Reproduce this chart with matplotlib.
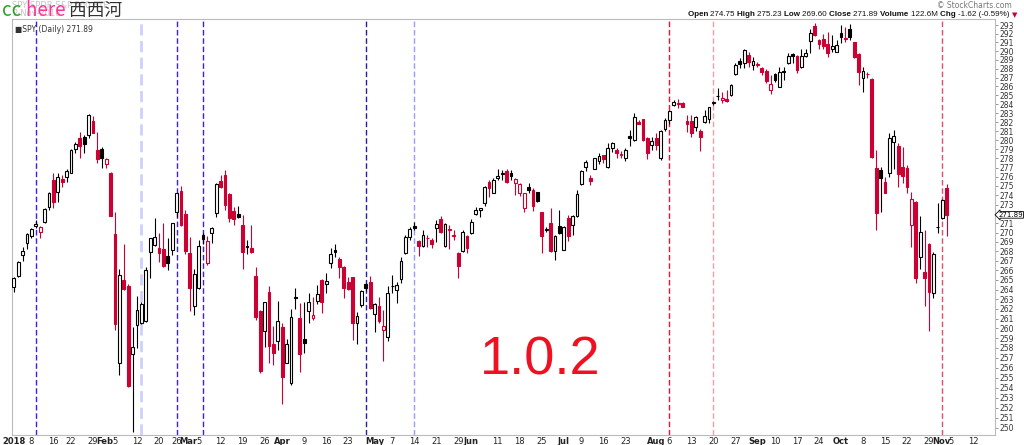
import numpy as np
import pandas as pd
import matplotlib
matplotlib.use("Agg")
import matplotlib.pyplot as plt
import matplotlib.transforms as mtrans
from matplotlib.patches import Rectangle

# trading days 2018 (NYSE holidays removed), the axis runs on past the last bar
holidays = ["2018-01-15", "2018-02-19", "2018-03-30", "2018-05-28",
            "2018-07-04", "2018-09-03"]
days = pd.bdate_range("2018-01-02", "2018-11-16")
days = days[~days.isin(pd.to_datetime(holidays))]

# SPY daily, Jan 2 - Nov 2 2018
opens = [264.3, 265.4, 267.6, 268.9, 269.65, 270.75, 270.1, 271.15, 272.75, 275.65,
         274.4, 275.8, 276.0, 276.45, 279.0, 280.2, 280.4, 280.55, 282.1, 278.9,
         279.0, 277.35, 276.4, 269.8, 256.5, 265.0, 264.4, 257.4, 260.3, 260.55,
         260.8, 267.95, 268.7, 268.4, 268.25, 267.5, 268.15, 272.2, 274.45, 272.0,
         267.8, 262.3, 264.2, 269.75, 266.8, 270.0, 272.05, 275.55, 276.15, 274.15,
         272.3, 271.95, 270.8, 268.55, 268.4, 265.4, 261.8, 259.7, 263.7, 258.4,
         258.75, 260.15, 256.5, 254.45, 263.2, 261.05, 258.95, 261.8, 261.1, 262.85,
         265.0, 264.55, 266.8, 268.15, 267.25, 266.4, 264.8, 265.3, 260.55, 262.35,
         264.55, 264.8, 261.45, 262.3, 259.85, 259.15, 264.35, 264.0, 265.15, 267.8,
         269.55, 270.75, 269.1, 268.6, 269.4, 269.2, 270.5, 271.45, 268.55, 270.3,
         269.7, 267.85, 268.05, 269.6, 269.9, 272.0, 272.45, 273.2, 275.45, 274.25,
         275.85, 276.35, 276.6, 276.45, 275.3, 274.2, 272.65, 274.9, 274.6, 274.3,
         272.15, 270.3, 271.0, 268.05, 270.7, 268.2, 271.6, 270.8, 271.8, 275.2,
         277.05, 275.85, 276.9, 277.75, 278.35, 277.1, 279.2, 278.95, 278.5, 278.1,
         280.45, 280.0, 282.0, 282.35, 280.2, 279.45, 280.25, 278.1, 281.2, 282.25,
         283.95, 284.05, 284.15, 282.1, 282.1, 281.5, 281.05, 282.05, 282.4, 284.1,
         284.9, 284.5, 284.6, 285.0, 287.4, 288.9, 288.7, 289.55, 288.4, 288.45,
         288.05, 287.8, 285.6, 287.35, 285.95, 287.65, 288.7, 289.65, 289.45, 288.15,
         289.5, 291.2, 292.9, 291.25, 291.4, 290.8, 290.3, 289.95, 292.05, 291.45,
         292.6, 291.0, 289.65, 286.9, 287.35, 286.8, 277.0, 276.75, 275.45, 276.45,
         279.8, 279.35, 277.1, 277.0, 270.85, 273.3, 267.4, 265.85, 268.8, 263.6,
         270.55, 271.5, 274.75]
highs = [265.35, 267.0, 268.5, 269.95, 270.45, 271.3, 270.7, 272.6, 274.4, 276.4,
         276.4, 276.2, 276.8, 279.0, 279.85, 280.95, 280.55, 282.9, 282.7, 280.95,
         279.3, 278.1, 276.55, 272.2, 266.1, 268.75, 264.6, 260.1, 263.3, 262.7,
         266.4, 269.4, 271.6, 270.0, 271.05, 269.4, 271.05, 274.2, 275.0, 272.45,
         269.5, 266.2, 269.2, 270.0, 269.6, 270.6, 275.3, 276.2, 276.75, 274.2,
         272.75, 272.85, 271.85, 269.2, 270.8, 266.4, 261.9, 262.75, 264.4, 260.25,
         262.85, 260.5, 258.95, 261.95, 264.2, 262.65, 262.75, 263.6, 263.25, 264.45,
         265.1, 265.75, 268.4, 268.75, 267.4, 266.5, 265.35, 265.35, 261.65, 263.95,
         264.7, 265.4, 262.6, 263.25, 261.9, 264.35, 265.5, 264.8, 267.45, 269.75,
         270.6, 271.1, 269.2, 270.25, 269.7, 269.4, 271.35, 271.75, 271.0, 270.8,
         270.25, 267.9, 270.25, 269.75, 271.4, 272.7, 272.65, 275.0, 275.7, 275.85,
         276.8, 276.75, 276.8, 276.75, 275.85, 275.3, 274.25, 275.35, 274.75, 274.4,
         272.2, 270.6, 272.6, 269.75, 272.4, 270.7, 271.85, 271.85, 274.55, 276.75,
         277.85, 276.2, 278.1, 278.6, 278.4, 279.65, 279.85, 279.1, 278.85, 279.1,
         281.1, 283.0, 282.25, 282.4, 280.4, 280.4, 280.75, 281.15, 282.45, 283.4,
         284.45, 284.6, 284.25, 282.8, 282.8, 282.7, 281.2, 283.35, 283.7, 284.35,
         285.8, 285.4, 285.6, 286.25, 288.6, 289.2, 290.3, 289.95, 289.35, 288.8,
         288.25, 287.95, 287.3, 287.5, 288.25, 288.25, 289.75, 289.75, 289.55, 290.2,
         290.3, 292.6, 293.2, 291.45, 291.95, 292.25, 291.85, 291.25, 293.0, 292.8,
         293.1, 291.05, 289.75, 288.25, 287.65, 286.9, 278.9, 277.05, 275.95, 280.75,
         281.1, 279.65, 279.3, 277.3, 274.4, 273.35, 271.75, 270.25, 268.85, 267.95,
         273.2, 273.55, 275.23]
lows = [263.8, 265.35, 267.0, 268.3, 269.4, 270.5, 269.4, 271.0, 272.4, 272.6,
        273.3, 274.85, 275.45, 276.4, 278.55, 278.1, 278.6, 280.3, 280.75, 277.45,
        277.0, 277.0, 271.75, 259.8, 255.25, 263.95, 254.1, 249.55, 258.0, 260.4,
        260.7, 265.2, 268.6, 266.85, 266.35, 266.0, 267.6, 271.65, 270.65, 267.7,
        261.8, 261.35, 264.1, 268.8, 266.6, 268.85, 271.7, 274.75, 272.4, 271.1,
        270.8, 271.55, 266.2, 267.7, 267.8, 260.9, 255.5, 258.1, 256.45, 256.25,
        257.8, 252.35, 256.45, 254.25, 262.0, 255.6, 257.5, 260.5, 260.85, 262.55,
        261.55, 263.6, 266.3, 267.45, 265.25, 263.1, 264.0, 258.85, 258.45, 262.2,
        263.9, 261.95, 259.65, 260.5, 256.7, 258.75, 263.6, 262.6, 264.65, 267.7,
        269.2, 270.3, 267.5, 268.5, 268.5, 268.4, 269.0, 269.9, 268.5, 268.3,
        269.2, 265.25, 267.95, 267.8, 269.85, 271.85, 271.7, 272.85, 273.85, 274.2,
        275.65, 275.65, 275.3, 275.65, 274.0, 273.9, 272.2, 274.25, 272.35, 273.25,
        267.8, 270.05, 267.95, 267.1, 269.85, 268.15, 269.1, 269.75, 271.7, 275.1,
        276.65, 275.1, 276.8, 277.4, 277.45, 277.0, 278.75, 278.1, 278.0, 277.75,
        279.35, 279.95, 281.75, 279.95, 277.95, 278.9, 278.9, 277.8, 281.05, 281.85,
        283.85, 283.55, 283.65, 280.95, 280.4, 281.0, 278.8, 281.9, 281.9, 283.95,
        284.45, 284.1, 284.25, 284.95, 287.3, 288.05, 288.05, 288.25, 287.85, 288.25,
        287.3, 286.4, 285.2, 286.55, 285.9, 286.7, 288.55, 288.6, 287.5, 288.05,
        289.35, 289.75, 291.75, 290.3, 290.3, 289.3, 289.95, 289.85, 290.9, 291.1,
        291.25, 289.2, 286.15, 285.4, 286.9, 278.1, 270.25, 272.2, 274.2, 276.0,
        276.9, 274.9, 275.3, 274.25, 268.5, 264.65, 266.1, 262.25, 259.75, 263.1,
        269.95, 271.4, 269.6]
closes = [265.2, 266.9, 268.0, 269.8, 270.35, 270.9, 270.55, 272.5, 274.2, 273.3,
          275.95, 275.45, 276.65, 278.9, 279.55, 279.35, 279.6, 282.8, 280.85, 277.95,
          278.1, 277.9, 271.8, 260.4, 265.55, 264.05, 254.2, 258.05, 261.85, 262.5,
          266.0, 269.38, 269.5, 267.8, 266.45, 266.8, 271.05, 274.2, 270.8, 268.05,
          264.2, 265.6, 268.6, 269.3, 269.15, 270.45, 275.2, 274.85, 273.0, 271.6,
          271.4, 271.65, 267.95, 268.45, 267.95, 261.2, 255.7, 262.7, 258.2, 257.45,
          260.75, 255.1, 258.4, 261.15, 263.15, 257.4, 258.55, 262.7, 261.35, 263.55,
          262.7, 264.9, 267.7, 267.9, 266.4, 264.2, 264.1, 260.5, 261.3, 263.85,
          264.15, 262.05, 262.55, 260.8, 260.25, 263.6, 264.4, 264.45, 267.0, 269.5,
          270.35, 270.45, 268.55, 269.75, 269.45, 268.8, 270.9, 270.1, 270.9, 270.35,
          269.65, 266.45, 270.1, 268.4, 271.15, 272.4, 272.6, 274.85, 274.75, 275.65,
          276.1, 276.4, 275.45, 276.1, 275.8, 275.2, 274.2, 274.6, 272.85, 273.4,
          269.65, 270.4, 268.05, 269.6, 269.9, 270.6, 269.6, 271.8, 274.1, 276.6,
          277.6, 275.55, 278.0, 278.25, 277.95, 279.15, 279.75, 278.6, 278.35, 278.9,
          280.2, 282.6, 281.85, 280.05, 278.55, 279.95, 279.45, 281.05, 282.25, 283.25,
          284.2, 284.1, 283.7, 281.85, 280.75, 282.55, 280.4, 282.7, 283.65, 284.2,
          284.95, 284.75, 284.4, 286.15, 288.4, 288.5, 290.15, 288.8, 288.9, 288.5,
          287.6, 286.65, 286.25, 286.7, 287.65, 287.75, 289.45, 289.5, 287.85, 289.5,
          289.75, 292.1, 291.85, 290.8, 290.6, 289.75, 290.6, 290.65, 291.65, 291.5,
          291.65, 289.3, 287.65, 287.7, 287.4, 278.2, 272.05, 275.85, 274.25, 280.3,
          280.45, 276.3, 276.1, 274.9, 273.55, 265.25, 270.1, 265.25, 263.75, 267.7,
          270.6, 273.5, 271.89]

tick_dates = ["2018-01-02", "2018-01-08", "2018-01-16", "2018-01-22", "2018-01-29",
              "2018-02-01", "2018-02-05", "2018-02-12", "2018-02-20", "2018-02-26",
              "2018-03-01", "2018-03-05", "2018-03-12", "2018-03-19", "2018-03-26",
              "2018-04-02", "2018-04-09", "2018-04-16", "2018-04-23",
              "2018-05-01", "2018-05-07", "2018-05-14", "2018-05-21", "2018-05-29",
              "2018-06-01", "2018-06-11", "2018-06-18", "2018-06-25",
              "2018-07-02", "2018-07-09", "2018-07-16", "2018-07-23",
              "2018-08-01", "2018-08-06", "2018-08-13", "2018-08-20", "2018-08-27",
              "2018-09-04", "2018-09-10", "2018-09-17", "2018-09-24",
              "2018-10-01", "2018-10-08", "2018-10-15", "2018-10-22", "2018-10-29",
              "2018-11-01", "2018-11-05", "2018-11-12"]
tick_labels = ["2018", "8", "16", "22", "29", "Feb", "5", "12", "20", "26",
               "Mar", "5", "12", "19", "26", "Apr", "9", "16", "23",
               "May", "7", "14", "21", "29", "Jun", "11", "18", "25",
               "Jul", "9", "16", "23", "Aug", "6", "13", "20", "27",
               "Sep", "10", "17", "24", "Oct", "8", "15", "22", "29",
               "Nov", "5", "12"]
bold_labels = ["2018", "Feb", "Mar", "Apr", "May", "Jun", "Jul", "Aug", "Sep", "Oct", "Nov"]

vline_dates = ["2018-01-09", "2018-02-13", "2018-02-26", "2018-03-06", "2018-04-27",
               "2018-05-14", "2018-08-06", "2018-08-20", "2018-11-01"]
vline_colors = ["#3a1ef0", "#cfcfff", "#3a1ef0", "#3a1ef0", "#2a1aa8",
                "#9a9aff", "#ee1133", "#ff9aaa", "#e0506e"]
vline_widths = [1.0, 2.0, 1.0, 1.0, 1.0, 1.0, 1.0, 1.0, 1.0]

pos = {d.strftime("%Y-%m-%d"): i for i, d in enumerate(days)}

RED = "#cc0033"
W, H = 1024, 445
fig = plt.figure(figsize=(W / 100, H / 100), dpi=100)
ax = fig.add_axes([12 / W, 1 - 435 / H, 983 / W, 416 / H])

for d, c, lw in zip(vline_dates, vline_colors, vline_widths):
    ax.axvline(pos[d], color=c, lw=lw, ls=(0, (4, 2)), zorder=1)

prev = None
for i in range(len(closes)):
    o, h, l, c = opens[i], highs[i], lows[i], closes[i]
    col = "black" if (prev is None or c >= prev) else RED
    ax.vlines(i, l, h, color=col, lw=0.8, zorder=2)
    lo, hi = min(o, c), max(o, c)
    face = "white" if c > o else col
    ax.add_patch(Rectangle((i - 0.32, lo), 0.64, hi - lo, facecolor=face,
                           edgecolor=col, lw=0.8, zorder=3))
    prev = c

ax.set_yscale("log")
ax.set_ylim(249.3, 293.7)
ax.set_xlim(-0.4, 223.0)
yt = [v for v in range(250, 294) if v != 272]
ax.yaxis.tick_right()
ax.set_yticks(yt)
ax.set_yticklabels([str(v) for v in yt])
ax.yaxis.set_minor_locator(plt.NullLocator())
ax.tick_params(axis="y", which="both", labelsize=5.5, length=2, width=0.6,
               color="#888888", labelcolor="#333333", pad=1)
ax.set_xticks([pos[d] for d in tick_dates])
ax.set_xticklabels(tick_labels)
ax.tick_params(axis="x", length=0, pad=1.5, labelsize=6, labelcolor="#222222")
nudge = mtrans.ScaledTranslation(-1.0 / 100, 0, fig.dpi_scale_trans)
for t in ax.get_xticklabels():
    if t.get_text() in bold_labels:
        t.set_fontweight("bold")
        if t.get_text() in ("Feb", "Mar", "Nov"):
            t.set_transform(t.get_transform() + nudge)
for s in ax.spines.values():
    s.set_color("#bbbbbb")
    s.set_linewidth(0.8)

ax.annotate("271.89", xy=(1.0, closes[-1]), xycoords=("axes fraction", "data"),
            xytext=(2.5, 0), textcoords="offset points", ha="left", va="center",
            fontsize=5, color="black",
            bbox=dict(boxstyle="larrow,pad=0.05", fc="white", ec="black", lw=0.6))

ax.text(0.003, 0.985, "■SPY (Daily) 271.89", transform=ax.transAxes, fontsize=5.5,
        color="#333333", va="top", ha="left")
ax.text(0.476, 0.178, "1.0.2", transform=ax.transAxes, fontsize=39,
        family="Liberation Sans", color="#ee1122", ha="left", va="center")

# header
fig.text(12 / W, 1 - 5 / H, "SPY SPDR S&P 500 ETF", fontsize=6, color="#c4c4c4", va="center")
fig.text(12 / W, 1 - 14 / H, "2-Nov-2018", fontsize=6, color="#c4c4c4", va="center")
fig.text(1012 / W, 1 - 5 / H, "© StockCharts.com", fontsize=5.5, color="#777777",
         ha="right", va="center")

fig.canvas.draw()
r = fig.canvas.get_renderer()

def put_row(parts, x0, y, align="left", **kw):
    texts, widths = [], []
    for txt, props in parts:
        opts = dict(kw)
        opts.update(props)
        t = fig.text(0, 1 - y / H, txt, va="center", ha="left", **opts)
        texts.append(t)
        widths.append(t.get_window_extent(renderer=r).width)
    x = x0 - sum(widths) if align == "right" else x0
    for t, w in zip(texts, widths):
        t.set_x(x / W)
        x += w

head = [("Open ", {"fontweight": "bold"}), ("274.75 ", {}),
        ("High ", {"fontweight": "bold"}), ("275.23 ", {}),
        ("Low ", {"fontweight": "bold"}), ("269.60 ", {}),
        ("Close ", {"fontweight": "bold"}), ("271.89 ", {}),
        ("Volume ", {"fontweight": "bold"}), ("122.6M ", {}),
        ("Chg ", {"fontweight": "bold"}), ("-1.62 (-0.59%) ", {}),
        ("▼", {"color": RED, "family": "DejaVu Sans", "fontsize": 5})]
put_row(head, 1017, 15, align="right", fontsize=5.8, family="Liberation Sans", color="#111111")

mark = [("cc ", {"color": "#2f9e2f"}), ("here ", {"color": "#ff3399"}),
        ("西西河", {"color": "#333333", "fontsize": 12.8})]
put_row(mark, 2, 11, fontsize=13.5, family=["Noto Sans CJK SC", "DejaVu Sans"])

fig.savefig("out.png", dpi=100)
